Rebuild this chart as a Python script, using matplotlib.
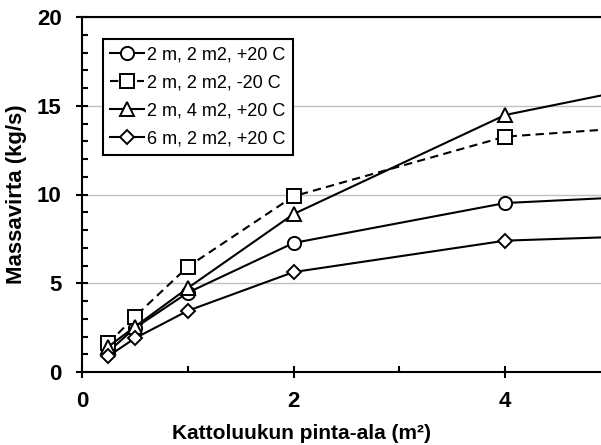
import matplotlib.pyplot as plt
from matplotlib.ticker import MultipleLocator

# roof hatch area (m2) and mass flow (kg/s) per case
area = [0.25, 0.5, 1, 2, 4, 6]
m2_2_plus20 = [1.15, 2.48, 4.47, 7.27, 9.52, 10.1]
m2_2_minus20 = [1.63, 3.12, 5.93, 9.9, 13.26, 14.1]
m2_4_plus20 = [1.43, 2.55, 4.73, 8.9, 14.48, 16.9]
m6_2_plus20 = [0.9, 1.9, 3.45, 5.63, 7.4, 7.8]

labels = ["2 m, 2 m2, +20 C", "2 m, 2 m2, -20 C", "2 m, 4 m2, +20 C", "6 m, 2 m2, +20 C"]

plt.rcParams["font.family"] = ["Liberation Sans", "DejaVu Sans"]

fig = plt.figure(figsize=(6.01, 4.45), dpi=100)
ax = fig.add_axes([82 / 601, 73 / 445, 529 / 601, 355 / 445])

style = dict(color="black", lw=1.5, mfc="white", mec="black", mew=1.4)
ax.plot(area, m2_2_plus20, marker="o", ms=9.5, label=labels[0], **style)
ax.plot(area, m2_2_minus20, marker="s", ms=10, ls=(0, (4, 2.5)), label=labels[1], **style)
ax.plot(area, m2_4_plus20, marker="^", ms=10, label=labels[2], **style)
ax.plot(area, m6_2_plus20, marker="D", ms=7, label=labels[3], **style)

ax.set_xlim(0, 5)
ax.set_ylim(0, 20)
ax.xaxis.set_major_locator(MultipleLocator(2))
ax.xaxis.set_minor_locator(MultipleLocator(1))
ax.yaxis.set_major_locator(MultipleLocator(5))
ax.yaxis.set_minor_locator(MultipleLocator(1))
ax.tick_params(which="major", direction="inout", length=9, width=1.5, labelsize=16)
ax.tick_params(axis="x", which="major", pad=9)
ax.tick_params(axis="y", which="major", pad=10)
ax.tick_params(which="minor", direction="in", length=4, width=1.5)
for lab in ax.get_xticklabels() + ax.get_yticklabels():
    lab.set_fontweight("bold")

ax.grid(axis="y", which="major", color="#c0c0c0", lw=1)
ax.set_axisbelow(True)
for s in ax.spines.values():
    s.set_linewidth(1.5)

ax.set_xlabel("Kattoluukun pinta-ala (m²)", fontsize=15, fontweight="bold", labelpad=9)
ax.xaxis.label.set_x(0.414)
ax.set_ylabel("Massavirta (kg/s)", fontsize=16, fontweight="bold", labelpad=7)

leg = ax.legend(loc="upper left", bbox_to_anchor=(0.04, 0.938), fontsize=13,
                frameon=True, fancybox=False, edgecolor="black", framealpha=1,
                handlelength=1.85, handletextpad=0.2, labelspacing=0.62,
                borderpad=0.4, borderaxespad=0)
leg.get_frame().set_linewidth(1.5)

fig.savefig("out.png", dpi=100)
